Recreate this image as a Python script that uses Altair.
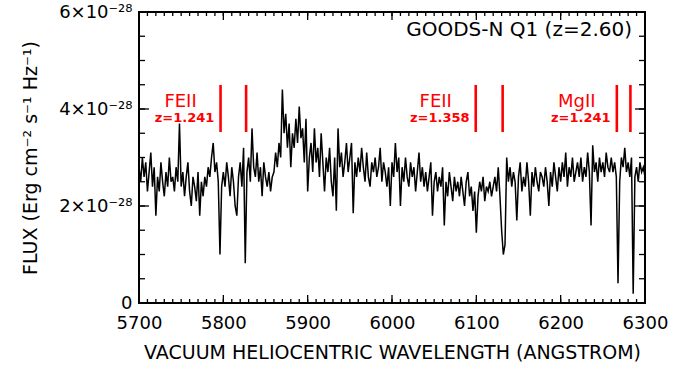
import altair as alt
import pandas as pd

# Spectrum sampled every 2 Angstrom from 5700 A; flux in units of 1e-28 erg/cm^2/s/Hz
wave_start = 5700
wave_step = 2
flux_rows = [
    [2.8, 2.5, 3.0, 2.6, 2.9, 2.3, 2.7, 3.1, 2.4, 2.8],   # 5700
    [1.8, 2.6, 2.3, 2.9, 2.5, 2.2, 2.7, 2.4, 3.0, 2.5],   # 5720
    [2.6, 2.3, 2.8, 2.5, 3.7, 2.4, 2.7, 2.2, 2.6, 2.9],   # 5740
    [2.3, 2.0, 2.6, 2.4, 2.1, 2.7, 1.8, 2.5, 2.2, 2.6],   # 5760
    [2.4, 2.8, 2.6, 3.0, 3.3, 2.7, 2.9, 2.5, 1.0, 2.4],   # 5780
    [2.7, 2.4, 2.9, 2.6, 2.2, 2.8, 2.5, 2.0, 1.8, 2.6],   # 5800
    [2.9, 2.4, 3.2, 0.82, 2.7, 3.0, 2.5, 3.6, 2.8, 2.6],  # 5820
    [3.1, 2.5, 2.8, 2.2, 2.9, 2.6, 2.4, 2.7, 2.3, 2.6],   # 5840
    [2.7, 3.1, 2.8, 3.3, 3.0, 4.4, 3.5, 3.9, 3.2, 3.7],   # 5860
    [2.8, 3.5, 3.2, 3.8, 3.3, 4.05, 3.4, 3.6, 2.9, 3.8],  # 5880
    [2.3, 3.0, 3.3, 2.7, 3.6, 2.9, 3.2, 2.6, 3.5, 2.9],   # 5900
    [2.3, 3.0, 2.7, 3.2, 2.5, 2.2, 3.0, 1.9, 3.6, 2.8],   # 5920
    [3.1, 2.6, 2.9, 3.3, 2.7, 3.0, 3.3, 1.85, 2.9, 2.6],  # 5940
    [3.0, 2.7, 3.2, 2.8, 2.5, 3.1, 2.6, 2.4, 2.9, 2.7],   # 5960
    [3.0, 2.6, 2.8, 3.2, 2.5, 2.9, 2.7, 2.4, 2.8, 2.0],   # 5980
    [2.9, 2.6, 3.3, 2.7, 3.0, 2.0, 2.8, 2.5, 3.0, 2.6],   # 6000
    [2.4, 2.9, 2.6, 2.8, 2.3, 2.7, 3.1, 2.5, 2.8, 2.4],   # 6020
    [2.7, 2.3, 2.6, 2.9, 1.8, 2.5, 2.7, 2.3, 2.6, 2.4],   # 6040
    [2.8, 1.6, 2.5, 2.2, 2.7, 2.4, 2.1, 2.6, 2.3, 2.5],   # 6060
    [2.2, 2.6, 2.3, 2.0, 2.5, 2.7, 2.2, 2.4, 1.9, 2.3],   # 6080
    [1.45, 2.2, 2.5, 2.3, 2.6, 2.1, 2.4, 2.3, 2.5, 2.2],  # 6100
    [2.4, 2.6, 2.3, 2.8, 2.2, 1.5, 1.0, 1.2, 3.0, 2.5],   # 6120
    [2.8, 2.4, 2.7, 2.5, 1.7, 2.6, 2.9, 2.3, 2.6, 2.4],   # 6140
    [2.9, 2.5, 1.8, 2.7, 2.4, 2.8, 2.5, 2.3, 2.7, 2.6],   # 6160
    [2.4, 2.8, 2.5, 2.0, 2.7, 2.4, 2.9, 2.6, 2.3, 2.8],   # 6180
    [2.5, 2.9, 2.6, 3.1, 2.4, 2.8, 2.6, 3.0, 2.5, 2.7],   # 6200
    [2.9, 2.6, 3.0, 2.5, 2.8, 2.6, 3.1, 2.7, 1.6, 3.25],  # 6220
    [2.7, 2.9, 2.5, 3.0, 2.7, 2.9, 2.6, 3.1, 2.8, 2.7],   # 6240
    [3.0, 2.7, 2.9, 2.6, 0.41, 2.5, 3.0, 2.8, 3.2, 2.7],  # 6260
    [2.9, 2.6, 3.0, 0.19, 2.6, 2.8, 2.5, 2.9, 2.7, 2.8],  # 6280
    [2.6],                                                # 6300
]
flux = [v for row in flux_rows for v in row]
wavelength = [wave_start + wave_step * i for i in range(len(flux))]

# Intervening absorbers: observed wavelengths of each doublet member
line_waves = [5796.7, 5827.0, 6099.3, 6131.2, 6266.6, 6282.7]
ion_names = ["FEII", "FEII", "MgII"]
ion_redshifts = ["z=1.241", "z=1.358", "z=1.241"]
ion_anchor = [5796.7, 6099.3, 6266.6]

object_label = "GOODS-N Q1 (z=2.60)"

# Axis ticks
x_major = [5700, 5800, 5900, 6000, 6100, 6200, 6300]
x_minor = list(range(5700, 6301, 10))
y_major = [0, 2, 4, 6]
y_minor = [0, 0.5, 1, 1.5, 2, 2.5, 3, 3.5, 4, 4.5, 5, 5.5, 6]

W, H = 506, 291
FONT = "DejaVu Sans"
RED = "#ff0000"

xs = alt.Scale(domain=[5700, 6300], nice=False, zero=False)
ys = alt.Scale(domain=[0, 6], nice=False, zero=False)

x_axis = alt.Axis(
    values=x_major,
    format="d",
    title="VACUUM HELIOCENTRIC WAVELENGTH (ANGSTROM)",
    ticks=False,
    domain=False,
    grid=False,
    labelFlush=False,
    labelOverlap=False,
    labelPadding=11,
    labelFontSize=18,
    labelColor="black",
    titleFontSize=19,
    titleFontWeight="normal",
    titleColor="black",
    titleY=49,
    titleBaseline="middle",
)
y_axis = alt.Axis(
    values=y_major,
    labelExpr="datum.value == 0 ? '0' : datum.value + '×10⁻²⁸'",
    title="FLUX (Erg cm⁻² s⁻¹ Hz⁻¹)",
    ticks=False,
    domain=False,
    grid=False,
    labelOverlap=False,
    labelFlush=False,
    labelPadding=7,
    labelFontSize=18,
    labelColor="black",
    titleFontSize=19,
    titleFontWeight="normal",
    titleColor="black",
    titleX=-109,
    titleY=H / 2,
    titleAngle=-90,
    titleAlign="center",
    titleBaseline="middle",
)


def xenc(field):
    return alt.X(field, scale=xs, axis=x_axis)


def yenc(field):
    return alt.Y(field, scale=ys, axis=y_axis)


spec_df = pd.DataFrame({"wavelength": wavelength, "flux": flux})
spectrum = alt.Chart(spec_df).mark_line(color="black", strokeWidth=1.5).encode(
    x=xenc("wavelength:Q"),
    y=yenc("flux:Q"),
)

lines_df = pd.DataFrame({"wave": line_waves})
line_marks = alt.Chart(lines_df).mark_rule(color=RED, strokeWidth=2.6).encode(
    x=xenc("wave:Q"),
    y=alt.value(73),
    y2=alt.value(120),
)

ions_df = pd.DataFrame({"anchor": ion_anchor, "name": ion_names, "z": ion_redshifts})
ion_text = alt.Chart(ions_df).mark_text(
    color=RED, fontSize=18, font=FONT, align="center", baseline="middle", dx=-40
).encode(x=xenc("anchor:Q"), y=alt.value(90), text="name:N")
z_text = alt.Chart(ions_df).mark_text(
    color=RED, fontSize=13, fontWeight="bold", font=FONT, align="center",
    baseline="middle", dx=-36
).encode(x=xenc("anchor:Q"), y=alt.value(106), text="z:N")

label_df = pd.DataFrame({"label": [object_label]})
object_text = alt.Chart(label_df).mark_text(
    color="black", fontSize=20, font=FONT, align="right", baseline="middle"
).encode(x=alt.value(W - 13), y=alt.value(18), text="label:N")


def x_ticks(values, length):
    df = pd.DataFrame({"t": values})
    base = alt.Chart(df).mark_rule(color="black", strokeWidth=1.3)
    bottom = base.encode(x=xenc("t:Q"), y=alt.value(H), y2=alt.value(H - length))
    top = base.encode(x=xenc("t:Q"), y=alt.value(0), y2=alt.value(length))
    return [bottom, top]


def y_ticks(values, length):
    df = pd.DataFrame({"t": values})
    base = alt.Chart(df).mark_rule(color="black", strokeWidth=1.3)
    left = base.encode(y=yenc("t:Q"), x=alt.value(0), x2=alt.value(length))
    right = base.encode(y=yenc("t:Q"), x=alt.value(W), x2=alt.value(W - length))
    return [left, right]


tick_layers = (x_ticks(x_minor, 4) + x_ticks(x_major, 8)
               + y_ticks(y_minor, 6) + y_ticks(y_major, 10))

chart = alt.layer(
    spectrum, line_marks, ion_text, z_text, object_text, *tick_layers
).properties(
    width=W,
    height=H,
    autosize=alt.AutoSizeParams(type="none"),
    padding={"left": 139, "top": 12, "right": 30, "bottom": 63},
).configure(
    font=FONT,
    background="white",
).configure_view(
    stroke="black",
    strokeWidth=2,
)

chart.save("out.html", embed_options={"renderer": "svg", "actions": False})
